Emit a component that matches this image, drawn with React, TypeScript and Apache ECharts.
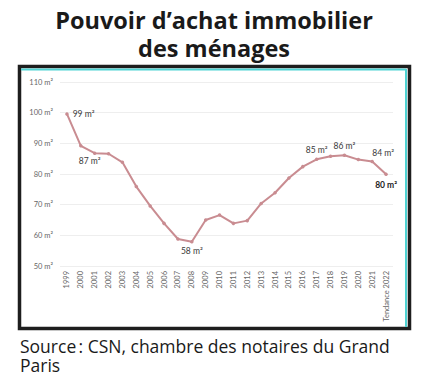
import React, { useEffect, useRef } from "react";
import * as echarts from "echarts";

const years = ["1999","2000","2001","2002","2003","2004","2005","2006","2007","2008","2009","2010","2011","2012","2013","2014","2015","2016","2017","2018","2019","2020","2021","Tendance 2022"];
const values = [99.6,89.2,86.8,86.6,83.8,75.9,69.6,63.9,58.8,57.9,65.0,66.6,63.9,64.8,70.4,73.9,78.7,82.4,84.8,85.8,86.1,84.7,84.1,79.9];
const labels: Record<number, string> = { 0: "99 m²", 2: "87 m²", 9: "58 m²", 18: "85 m²", 20: "86 m²", 22: "84 m²", 23: "80 m²" };
const titleLines = ["Pouvoir d’achat immobilier", "des ménages"];
const sourceLines = ["Source\u202f: CSN, chambre des notaires du Grand", "Paris"];

export default function App() {
  const ref = useRef<HTMLDivElement>(null);
  useEffect(() => {
    document.body.style.margin = "0";
    const chart = echarts.init(ref.current!, null, { renderer: "svg" });
    const lineColor = "#c98c91";
    const data = values.map((v, i) => {
      const item: any = { value: v };
      const t = labels[i];
      if (t) {
        const lab: any = { show: true, formatter: t, color: "#3a3a3a", fontSize: 8.5, fontFamily: "Lato" };
        if (i === 0) { lab.position = "right"; lab.distance = 4; }
        else if (i === 2) { lab.position = "bottom"; lab.offset = [-5, 0]; lab.distance = 2; }
        else if (i === 9) { lab.position = "bottom"; lab.distance = 3; }
        else if (i === 18 || i === 20) { lab.position = "top"; lab.distance = 3; }
        else if (i === 22) { lab.position = "top"; lab.offset = [11, 0]; lab.distance = 2; }
        else if (i === 23) { lab.position = "bottom"; lab.distance = 4; lab.fontWeight = "bold"; lab.color = "#222"; }
        item.label = lab;
      }
      return item;
    });
    chart.setOption({
      animation: false,
      grid: { left: 60, right: 35, top: 82, bottom: 118 },
      xAxis: {
        type: "category",
        data: years,
        boundaryGap: true,
        axisLine: { show: false },
        axisTick: { show: false },
        axisLabel: { rotate: 90, fontSize: 7.5, color: "#666", fontFamily: "Lato", margin: 5, interval: 0 },
      },
      yAxis: {
        type: "value",
        min: 50,
        max: 110,
        interval: 10,
        axisLine: { show: false },
        axisTick: { show: false },
        axisLabel: { formatter: "{value} m²", fontSize: 7.5, color: "#666", fontFamily: "Lato", margin: 7 },
        splitLine: { lineStyle: { color: "#eeeeee", width: 1 } },
      },
      series: [{
        type: "line",
        data,
        symbol: "circle",
        symbolSize: 3.5,
        lineStyle: { color: lineColor, width: 2 },
        itemStyle: { color: lineColor },
        label: { show: false },
      }],
      graphic: [
        { type: "text", x: 214, y: 7, style: { text: titleLines[0], font: "bold 23.5px 'Open Sans'", lineHeight: 25, fill: "#1a1a1a", align: "center", verticalAlign: "top" } },
        { type: "text", x: 214, y: 35, style: { text: titleLines[1], font: "bold 23.5px 'Open Sans'", lineHeight: 25, fill: "#1a1a1a", align: "center", verticalAlign: "top" } },
        { type: "rect", shape: { x: 19.5, y: 66.5, width: 390, height: 262 }, style: { fill: "none", stroke: "#1e1e1e", lineWidth: 3.5 } },
        { type: "line", shape: { x1: 21, y1: 69.5, x2: 406, y2: 69.5 }, style: { stroke: "#4fd3d3", lineWidth: 2 } },
        { type: "line", shape: { x1: 406, y1: 69, x2: 406, y2: 327 }, style: { stroke: "#4fd3d3", lineWidth: 2 } },
        { type: "text", x: 20, y: 337, style: { text: sourceLines[0], font: "17.5px 'Open Sans'", lineHeight: 17, fill: "#1a1a1a", verticalAlign: "top" } },
        { type: "text", x: 20, y: 356, style: { text: sourceLines[1], font: "17.5px 'Open Sans'", lineHeight: 17, fill: "#1a1a1a", verticalAlign: "top" } },
      ],
    });
    return () => chart.dispose();
  }, []);
  return <div ref={ref} style={{ width: 428, height: 384, position: "absolute", left: 0, top: 0 }} />;
}
